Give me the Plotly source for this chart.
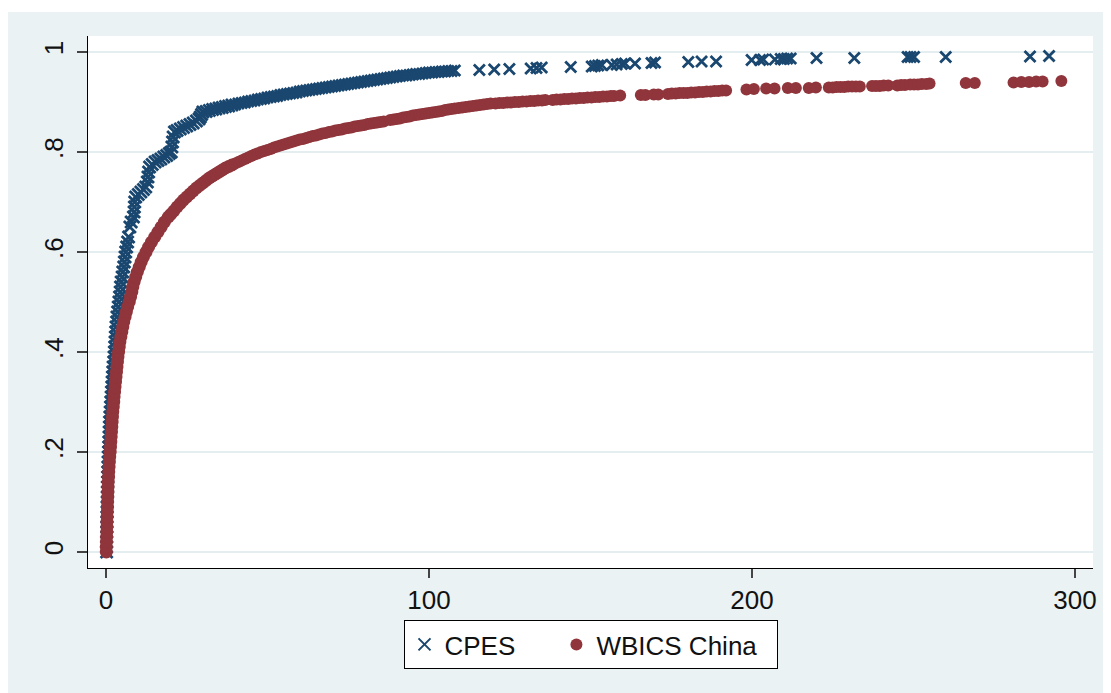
import plotly.graph_objects as go

# ---------------- data ----------------
# CPES: cumulative share (y) by x
cpes_x = [0.2,0.2,0.2,0.25,0.25,0.3,0.3,0.3,0.35,0.35,
          0.4,0.4,0.45,0.45,0.5,0.5,0.55,0.6,0.65,0.7,
          0.8,0.85,0.9,0.95,1.0,1.05,1.1,1.2,1.3,1.4,
          1.5,1.6,1.7,1.8,1.9,2.0,2.1,2.2,2.4,2.5,
          2.6,2.7,2.8,2.9,3.0,3.1,3.3,3.4,3.6,3.8,
          4.0,4.2,4.4,4.5,4.7,5.0,5.2,5.5,5.7,5.9,
          6.1,6.4,6.7,7.0,7.4,7.8,8.5,8.7,8.8,8.9,
          9.2,10.0,10.8,11.6,12.3,12.8,13.0,13.2,13.5,14.3,
          15.2,16.1,17.0,17.9,18.8,19.6,20.2,20.4,20.6,20.8,
          21.2,22.0,23.0,24.0,25.0,26.0,27.0,28.0,28.8,29.2,
          29.6,30.0,31,32,33,34,35,36,37,38,
          39,40,41,42,43,44,45,46,47,48,
          49,50,51,52,53,54,55,56,57,58,
          59,60,61,62,63,64,65,66,67,68,
          69,70,71,72,73,74,75,76,77,78,
          79,80,81,82,83,84,85,86,87,88,
          89,90,91,92,93,94,95,96,97,98,
          99,100,101,102,103,104,105,106,107,108,
          115.6,120.2,124.9,131.5,133.3,134.9,143.9,150.4,151.4,152.4,
          153.5,156.6,158.1,159.7,160.7,163.8,168.9,170.0,180.3,184.4,
          188.9,199.9,202.5,203.5,207.1,208.9,209.9,210.9,212.0,220.0,
          231.7,248.2,249.1,250.2,260.0,286.1,292.0]
cpes_y = [0.00,0.01,0.02,0.03,0.04,0.05,0.06,0.07,0.08,0.09,
          0.10,0.11,0.12,0.13,0.14,0.15,0.16,0.17,0.18,0.19,
          0.20,0.21,0.22,0.23,0.24,0.25,0.26,0.27,0.28,0.29,
          0.30,0.31,0.32,0.33,0.34,0.35,0.36,0.37,0.38,0.39,
          0.40,0.41,0.42,0.43,0.44,0.45,0.46,0.47,0.48,0.49,
          0.50,0.51,0.52,0.53,0.54,0.55,0.56,0.57,0.58,0.59,
          0.60,0.61,0.62,0.63,0.65,0.66,0.67,0.68,0.69,0.70,
          0.71,0.715,0.72,0.725,0.73,0.74,0.75,0.76,0.77,0.775,
          0.78,0.783,0.786,0.79,0.793,0.797,0.80,0.81,0.82,0.83,
          0.84,0.843,0.846,0.849,0.852,0.855,0.858,0.862,0.866,0.87,
          0.875,0.88,0.881,0.883,0.885,0.886,0.888,0.889,0.891,0.892,
          0.894,0.895,0.897,0.898,0.899,0.901,0.902,0.903,0.905,0.906,
          0.907,0.909,0.910,0.911,0.912,0.914,0.915,0.916,0.917,0.918,
          0.919,0.921,0.922,0.923,0.924,0.925,0.926,0.927,0.928,0.929,
          0.930,0.931,0.932,0.933,0.934,0.935,0.936,0.937,0.938,0.939,
          0.940,0.941,0.942,0.943,0.944,0.945,0.946,0.947,0.948,0.949,
          0.950,0.951,0.952,0.953,0.953,0.954,0.955,0.956,0.956,0.957,
          0.958,0.959,0.959,0.960,0.960,0.961,0.961,0.962,0.962,0.963,
          0.964,0.965,0.966,0.967,0.968,0.969,0.970,0.971,0.972,0.973,
          0.974,0.974,0.975,0.976,0.977,0.977,0.978,0.979,0.980,0.981,
          0.981,0.984,0.984,0.985,0.985,0.986,0.986,0.987,0.987,0.988,
          0.988,0.990,0.990,0.990,0.990,0.991,0.992]

# WBICS China: cumulative share (y) by x
wbics_x = [0.1,0.1,0.15,0.2,0.25,0.3,0.3,0.35,0.4,0.45,
           0.5,0.55,0.6,0.65,0.7,0.8,0.85,0.95,1.05,1.15,
           1.3,1.4,1.5,1.6,1.7,1.8,1.9,2.0,2.1,2.25,
           2.4,2.5,2.65,2.8,2.95,3.1,3.25,3.4,3.55,3.7,
           3.9,4.1,4.3,4.6,4.9,5.2,5.5,5.9,6.3,6.7,
           7.2,7.6,8.0,8.3,8.7,9.2,9.7,10.3,10.9,11.6,
           12.4,13.2,14.1,15.1,16.1,17.1,18.1,19.3,
           20,21,22,23,24,25,26,27,28,29,
           30,31,32,33,34,35,36,37,38,39,
           40,41,42,43,44,45,46,47,48,49,
           50,51,52,53,54,55,56,57,58,59,
           60,61,62,63,64,65,66,67,68,69,
           70,71,72,73,74,75,76,77,78,79,
           80,81,82,83,84,85,86,88,89,90,
           91,92,93,94,95,96,97,98,99,100,
           101,102,103,104,105,106,107,108,
           109.2,110.3,111.4,112.5,113.6,114.7,115.8,116.9,118.0,119.1,
           120.6,121.8,123.0,124.2,125.4,126.6,127.8,129.0,130.2,131.4,
           132.6,133.8,135.0,136.0,
           138.3,139.5,140.7,141.9,143.1,144.3,145.5,146.7,147.9,149.1,
           150.3,151.5,152.7,153.9,155.1,156.3,157.3,159.2,
           165.6,167.0,169.6,171.0,
           174.0,175.2,176.4,177.6,178.8,180.0,181.2,182.4,183.6,184.8,
           186.0,187.2,188.4,189.6,190.8,192.0,
           198.3,200.6,204.4,207.0,211.1,213.6,217.6,219.8,
           223.8,225.0,226.2,227.4,228.6,229.8,231.0,232.2,233.4,
           237.2,238.4,239.6,240.8,242.2,
           245.0,246.2,247.4,249.0,250.2,251.4,252.6,254.0,255.0,
           266.2,269.0,281.0,283.4,285.8,288.0,290.0,295.8]
wbics_y = [0.00,0.01,0.02,0.03,0.04,0.05,0.06,0.07,0.08,0.09,
           0.10,0.11,0.12,0.13,0.14,0.15,0.16,0.17,0.18,0.19,
           0.20,0.21,0.22,0.23,0.24,0.25,0.26,0.27,0.28,0.29,
           0.30,0.31,0.32,0.33,0.34,0.35,0.36,0.37,0.38,0.39,
           0.40,0.41,0.42,0.43,0.44,0.45,0.46,0.47,0.48,0.49,
           0.50,0.51,0.52,0.53,0.54,0.55,0.56,0.57,0.58,0.59,
           0.60,0.61,0.62,0.63,0.64,0.65,0.66,0.67,
           0.675,0.682,0.690,0.697,0.704,0.710,0.716,0.722,0.728,0.733,
           0.738,0.743,0.748,0.752,0.756,0.760,0.764,0.768,0.771,0.774,
           0.777,0.780,0.783,0.786,0.789,0.792,0.795,0.797,0.800,0.802,
           0.804,0.806,0.809,0.811,0.813,0.815,0.817,0.819,0.821,0.823,
           0.825,0.826,0.828,0.830,0.832,0.833,0.835,0.837,0.838,0.840,
           0.841,0.843,0.844,0.845,0.847,0.848,0.849,0.851,0.852,0.853,
           0.854,0.856,0.857,0.858,0.859,0.860,0.861,0.864,0.865,0.866,
           0.867,0.869,0.870,0.871,0.873,0.874,0.875,0.876,0.877,0.878,
           0.879,0.880,0.881,0.882,0.884,0.885,0.886,0.887,
           0.888,0.889,0.890,0.891,0.892,0.893,0.894,0.895,0.896,0.897,
           0.897,0.898,0.898,0.899,0.899,0.900,0.900,0.901,0.901,0.902,
           0.902,0.903,0.903,0.904,
           0.904,0.905,0.905,0.906,0.906,0.907,0.907,0.908,0.908,0.909,
           0.909,0.910,0.910,0.911,0.911,0.912,0.912,0.913,
           0.914,0.914,0.915,0.915,
           0.916,0.917,0.917,0.918,0.918,0.918,0.919,0.919,0.920,0.920,
           0.921,0.921,0.922,0.922,0.923,0.923,
           0.925,0.926,0.927,0.927,0.928,0.928,0.928,0.929,
           0.929,0.929,0.930,0.930,0.930,0.931,0.931,0.931,0.931,
           0.932,0.932,0.932,0.933,0.933,
           0.933,0.934,0.934,0.935,0.935,0.935,0.936,0.936,0.937,
           0.938,0.938,0.939,0.940,0.940,0.941,0.941,0.942]

x_ticks = [0, 100, 200, 300]
y_ticks = [0, 0.2, 0.4, 0.6, 0.8, 1]
y_ticktext = ["0", ".2", ".4", ".6", ".8", "1"]
series_names = ["CPES", "WBICS China"]

NAVY = "#1A476F"
MAROON = "#90353B"
BG = "#EAF2F3"
FONT = "Liberation Sans, Arial, sans-serif"
NB = "\u00a0"

# marker sizes: the crowded early part of each curve looks thicker
cpes_size = [12 if v < 40 else 11 for v in cpes_x]
wbics_size = [13 if v < 40 else 12 for v in wbics_x]

fig = go.Figure()
fig.add_trace(go.Scatter(
    x=cpes_x, y=cpes_y, mode="markers", name=series_names[0] + NB * 5,
    marker=dict(symbol="x-thin", size=cpes_size, color=NAVY, opacity=1,
                line=dict(width=2.8, color=NAVY)),
))
fig.add_trace(go.Scatter(
    x=wbics_x, y=wbics_y, mode="markers", name=series_names[1] + NB * 2,
    marker=dict(symbol="circle", size=wbics_size, color=MAROON, opacity=1,
                line=dict(width=0)),
))

# The page body adds an 8px margin, so the figure is 8px smaller and all
# pixel positions are shifted by 8px.
W, H = 1103, 685
L, R, T, B = 80, 1085, 28, 560
pw, ph = R - L, B - T

# thin white strip at the very top (outer white frame of the original)
fig.add_shape(type="rect", xref="paper", yref="paper", layer="above",
              x0=(0 - L) / pw, x1=(W - L) / pw,
              y0=(B - 4) / ph, y1=(B + 2) / ph,
              fillcolor="white", line=dict(width=0))

fig.update_layout(
    width=W, height=H,
    margin=dict(l=L, r=W - R, t=T, b=H - B, autoexpand=False),
    paper_bgcolor=BG, plot_bgcolor="white",
    font=dict(family=FONT, size=26, color="#111111"),
    showlegend=True,
    legend=dict(orientation="h", x=0.5, xanchor="center",
                y=(B - 612) / ph, yanchor="top",
                bgcolor="white", bordercolor="black", borderwidth=1,
                font=dict(family=FONT, size=26, color="#111111"),
                itemsizing="constant"),
)
fig.update_xaxes(range=[-5.57, 305.6], tickvals=x_ticks, ticks="outside",
                 ticklen=9, tickwidth=1.5, tickcolor="#444444",
                 showline=True, linecolor="black", linewidth=1.3,
                 showgrid=False, zeroline=False, mirror=False,
                 tickfont=dict(size=26))
fig.update_yaxes(range=[-0.032, 1.032], tickvals=y_ticks, ticktext=y_ticktext,
                 tickangle=-90, ticks="outside", ticklen=10, tickwidth=1.5,
                 tickcolor="#444444", showline=True, linecolor="black",
                 linewidth=1.3, showgrid=True, gridcolor="#E4EDF0",
                 gridwidth=2, zeroline=False, mirror=False,
                 ticklabelstandoff=3, tickfont=dict(size=26))

fig.write_html("out.html")
